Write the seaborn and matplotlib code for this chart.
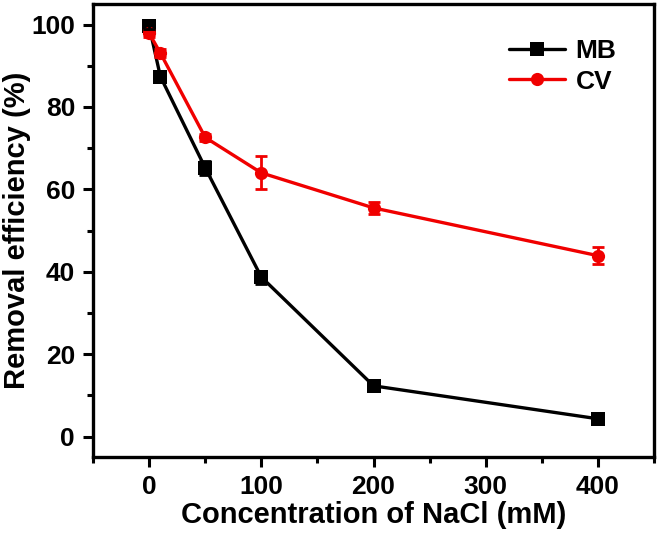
import numpy as np
import pandas as pd
import seaborn as sns
import matplotlib.pyplot as plt
from matplotlib.ticker import MultipleLocator

sns.set_style('ticks')
plt.rcParams['font.family'] = ['Liberation Sans', 'DejaVu Sans']
plt.rcParams['font.weight'] = 'bold'
plt.rcParams['text.color'] = 'black'
plt.rcParams['axes.labelcolor'] = 'black'
plt.rcParams['axes.edgecolor'] = 'black'
plt.rcParams['xtick.color'] = 'black'
plt.rcParams['ytick.color'] = 'black'

conc = [0, 10, 50, 100, 200, 400]
mb = [99.6, 87.4, 65.2, 38.7, 12.3, 4.3]
mb_err = [0.6, 1.0, 1.6, 1.6, 0.8, 0.8]
cv = [97.9, 93.1, 72.6, 64.0, 55.5, 43.9]
cv_err = [0.8, 1.0, 0.9, 4.0, 1.5, 2.0]

df = pd.DataFrame({
    'conc': conc * 2,
    'eff': mb + cv,
    'err': mb_err + cv_err,
    'dye': ['MB'] * len(conc) + ['CV'] * len(conc),
})

fig = plt.figure(figsize=(6.6, 5.34), dpi=100)
ax = fig.add_axes([0.141, 0.144, 0.85, 0.8485])

palette = {'MB': 'black', 'CV': '#f00000'}
markers = {'MB': 's', 'CV': 'o'}

sns.lineplot(data=df, x='conc', y='eff', hue='dye', style='dye',
             palette=palette, markers=markers, dashes=False,
             linewidth=2.4, markersize=9.5, markeredgewidth=0, ax=ax)

for dye, grp in df.groupby('dye'):
    ax.errorbar(grp['conc'], grp['eff'], yerr=grp['err'], fmt='none',
                ecolor=palette[dye], elinewidth=2, capsize=4.5, capthick=2)

ax.set_xlim(-50, 450)
ax.set_ylim(-5, 105)
ax.xaxis.set_major_locator(MultipleLocator(100))
ax.xaxis.set_minor_locator(MultipleLocator(50))
ax.yaxis.set_major_locator(MultipleLocator(20))
ax.yaxis.set_minor_locator(MultipleLocator(10))

ax.tick_params(which='major', direction='out', length=7, width=2.2,
               labelsize=19, pad=6)
ax.tick_params(which='minor', direction='out', length=4, width=2.2)
for s in ax.spines.values():
    s.set_linewidth(2.4)

ax.set_xlabel('Concentration of NaCl (mM)', fontsize=21, fontweight='bold',
              labelpad=1)
ax.set_ylabel('Removal efficiency (%)', fontsize=21, fontweight='bold',
              labelpad=0)

ax.legend(frameon=False, fontsize=19, loc='upper right',
          bbox_to_anchor=(0.975, 0.975), handlelength=2.1,
          handletextpad=0.4, labelspacing=0.25, title=None)

plt.savefig('out.png')
